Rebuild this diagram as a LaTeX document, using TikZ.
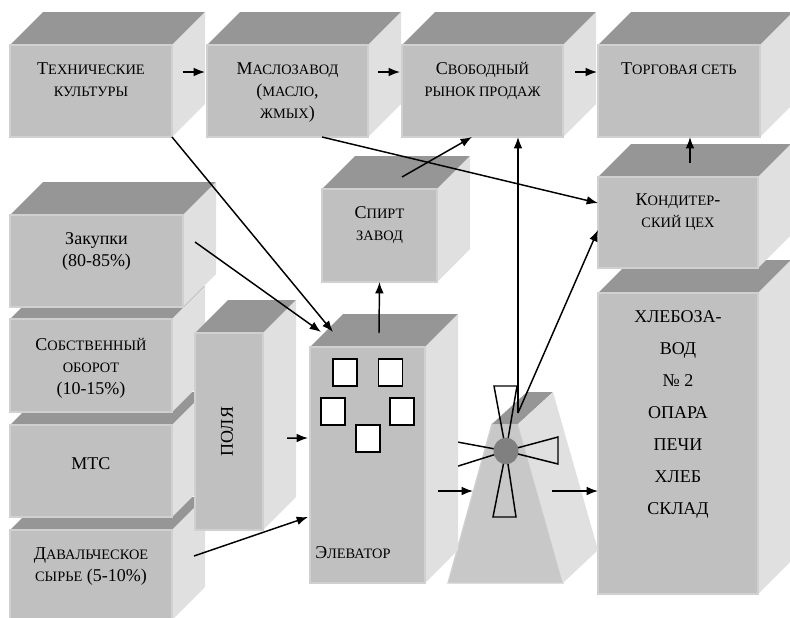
\documentclass[tikz,border=0pt]{standalone}
\usepackage{fontspec}
\setmainfont{Liberation Serif}
\usetikzlibrary{positioning, arrows.meta, shapes.geometric}
\definecolor{frontgray}{RGB}{192,192,192}
\definecolor{frontedge}{RGB}{208,208,208}
\definecolor{topgray}{RGB}{150,150,150}
\definecolor{sidegray}{RGB}{224,224,224}
\definecolor{millgray}{RGB}{200,200,200}
\definecolor{hubgray}{RGB}{128,128,128}
\newcommand{\smc}[1]{{\fontsize{10.8}{16.5}\selectfont #1}} % small caps look
% 3d box: name, x, y of the front top left corner, width, height
\newcommand{\cuboid}[5]{%
  \fill[topface] (#2,#3) -- ++(33,-33) -- ++(#4,0) -- ++(-33,33) -- cycle;
  \fill[sideface] (#2+#4,#3) -- ++(33,-33) -- ++(0,#5) -- ++(-33,33) -- cycle;
  \node[frontface, minimum width=#4*0.75pt, minimum height=#5*0.75pt] (#1) at (#2,#3) {};
}
\tikzset{
x=0.75pt, y=-0.75pt, % one unit is one pixel, y runs down
>={Latex[length=8.5pt, width=6.5pt]}, % filled arrow heads
arr/.style={->, line width=1.1pt},
topface/.style={fill=topgray},
sideface/.style={fill=sidegray},
frontface/.style={fill=frontgray, draw=frontedge, line width=1pt, anchor=north west, inner sep=0pt, outer sep=0pt},
txt/.style={align=center, anchor=north, inner sep=0pt, font=\fontsize{13.5}{16.5}\selectfont},
win/.style={draw, fill=white, line width=1.1pt, minimum width=18pt, minimum height=20pt, inner sep=0pt},
blade/.style={draw, line width=1.1pt},
hub/.style={ellipse, fill=hubgray, minimum width=18.75pt, minimum height=20pt, inner sep=0pt},
}
\begin{document}
\begin{tikzpicture}
\useasboundingbox (0,0) rectangle (790,618);
% top row
\cuboid{tech}{10}{45}{162}{92}
\cuboid{masl}{207}{45}{161}{92}
\cuboid{svob}{402}{45}{161}{92}
\cuboid{torg}{598}{45}{162}{92}
% right column
\cuboid{khleb}{598}{293}{160}{301}
\cuboid{kond}{598}{177}{160}{91}
\cuboid{spirt}{322}{189}{115}{93}
% left stack, back to front
\cuboid{daval}{10}{530}{162}{90}
\cuboid{mtc}{10}{425}{162}{92}
\cuboid{sobst}{10}{319}{162}{93}
\cuboid{zak}{10}{215}{173}{92}
% mill
\fill[millgray, draw=frontedge, line width=1pt] (448,583) -- (563,583) -- (518,424) -- (492,424) -- cycle;
\fill[topface] (492,424) -- (518,424) -- (553,392) -- (527,392) -- cycle;
\fill[sideface] (518,424) -- (553,392) -- (598,550) -- (563,583) -- cycle;
\coordinate (hubc) at (506,451);
\draw[blade] (hubc) -- (494,386) -- (517,386) -- cycle;
\draw[blade] (hubc) -- (493,517) -- (516,517) -- cycle;
\draw[blade] (hubc) -- (558,437) -- (558,464) -- cycle;
\draw[blade] (hubc) -- (452,441) -- (452,468) -- cycle;
\node[hub] (hub) at (hubc) {};
% fields and elevator
\cuboid{polya}{195}{333}{68}{197}
\cuboid{elev}{310}{347}{115}{236}
\node[win] (w1) at (345,372.5) {};
\node[win] (w2) at (390.5,372.5) {};
\node[win] (w3) at (333,411.5) {};
\node[win] (w4) at (402,411.5) {};
\node[win] (w5) at (368,438.5) {};
% labels
\node[txt, below=13.1pt of tech.north] (techlbl) {Т\smc{ЕХНИЧЕСКИЕ}\\\smc{КУЛЬТУРЫ}};
\node[txt, below=13.1pt of masl.north] (masllbl) {М\smc{АСЛОЗАВОД}\\(\smc{МАСЛО},\\\smc{ЖМЫХ})};
\node[txt, below=13.1pt of svob.north] (svoblbl) {С\smc{ВОБОДНЫЙ}\\\smc{РЫНОК ПРОДАЖ}};
\node[txt, below=13.1pt of torg.north] (torglbl) {Т\smc{ОРГОВАЯ СЕТЬ}};
\node[txt, below=13.1pt of spirt.north] (spirtlbl) {С\smc{ПИРТ}\\\smc{ЗАВОД}};
\node[txt, below=12.4pt of kond.north] (kondlbl) {К\smc{ОНДИТЕР}-\\\smc{СКИЙ ЦЕХ}};
\node[txt, below=13.1pt of khleb.north, font=\fontsize{13.5}{24}\selectfont] (khleblbl) {ХЛЕБОЗА-\\ВОД\\№ 2\\ОПАРА\\ПЕЧИ\\ХЛЕБ\\СКЛАД};
\node[txt, below=13.1pt of zak.north] (zaklbl) {Закупки\\(80-85\%)};
\node[txt, below=13.9pt of sobst.north] (sobstlbl) {С\smc{ОБСТВЕННЫЙ}\\\smc{ОБОРОТ}\\(10-15\%)};
\node[txt, below=24.4pt of mtc.north] (mtclbl) {МТС};
\node[txt, below=13.1pt of daval.north] (davallbl) {Д\smc{АВАЛЬЧЕСКОЕ}\\\smc{СЫРЬЕ} (5-10\%)};
\node[txt, anchor=center, rotate=90] (polyalbl) at ([xshift=-1.5pt]polya.center) {ПОЛЯ};
\node[txt, anchor=base west] (elevlbl) at ([xshift=3.75pt, yshift=18.4pt]elev.south west) {Э\smc{ЛЕВАТОР}};
% points on roofs
\coordinate (eltop) at (379,333);
\coordinate (elin1) at (321,332);
\coordinate (elin2) at (333,332);
\coordinate (sptop) at (402,177);
\coordinate (kdtop) at (690,163);
\coordinate (milltop) at (518,413);
\coordinate (millin) at (473,491);
\coordinate (millout) at (552,491);
% arrows
\draw[arr] ([xshift=8pt, yshift=14.25pt]tech.east) -- ([xshift=-1.5pt, yshift=14.25pt]masl.west);
\draw[arr] ([xshift=7.5pt, yshift=14.25pt]masl.east) -- ([xshift=-1.5pt, yshift=14.25pt]svob.west);
\draw[arr] ([xshift=9pt, yshift=14.25pt]svob.east) -- ([xshift=-0.75pt, yshift=14.25pt]torg.west);
\draw[arr] (tech.south east) -- (elin2);
\draw[arr] ([xshift=9pt, yshift=14.25pt]zak.east) -- (elin1);
\draw[arr] (eltop) -- (spirt.south);
\draw[arr] (sptop) -- ([xshift=-7.9pt]svob.south);
\draw[arr] ([xshift=25.9pt]masl.south) -- ([yshift=14.6pt]kond.west);
\draw[arr] (milltop) -- (milltop |- svob.south);
\draw[arr] (milltop) -- ([yshift=-5.6pt]kond.west);
\draw[arr] (kdtop) -- (kdtop |- torg.south);
\draw[arr] ([xshift=18pt, yshift=-4.9pt]polya.east) -- ([xshift=-1.5pt, yshift=20.25pt]elev.west);
\draw[arr] ([xshift=16.5pt, yshift=14.25pt]daval.east) -- ([xshift=-1.5pt, yshift=-39pt]elev.west);
\draw[arr] ([xshift=9.75pt, yshift=-19.5pt]elev.east) -- (millin);
\draw[arr] (millout) -- (millout -| khleb.west);
\end{tikzpicture}
\end{document}
